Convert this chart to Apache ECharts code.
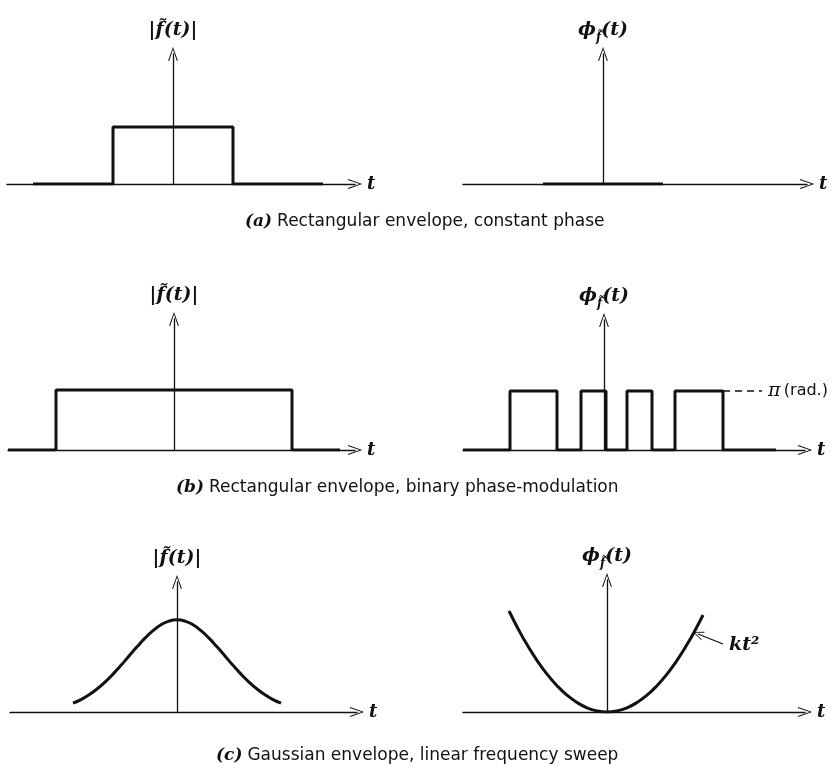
<!DOCTYPE html>
<html>
<head>
<meta charset="utf-8">
<script src="https://cdn.jsdelivr.net/npm/echarts@6/dist/echarts.min.js"></script>
<style>html,body{margin:0;padding:0;background:#fff}#c{width:836px;height:772px}</style>
</head>
<body>
<div id="c"></div>
<script>
// ---- data (t in arbitrary time units, y in arbitrary amplitude units) ----
const PI = 3.1416;
// (a) rectangular envelope, constant phase
const aEnvT = [-7, -3, -3, 3, 3, 7.5];
const aEnvY = [0, 0, 1, 1, 0, 0];
const aPhaseT = [-3, 3];
const aPhaseY = [0, 0];
// (b) rectangular envelope, binary phase modulation
const bEnvT = [-8.3, -5.9, -5.9, 5.9, 5.9, 8.3];
const bEnvY = [0, 0, 1, 1, 0, 0];
const bPhaseT = [-7.05, -4.7, -4.7, -2.35, -2.35, -1.15, -1.15, 0.1, 0.1, 1.15, 1.15, 2.4, 2.4, 3.55, 3.55, 5.95, 5.95, 8.6];
const bPhaseY = [0, 0, PI, PI, 0, 0, PI, PI, 0, 0, PI, PI, 0, 0, PI, PI, 0, 0];
const bRefT = [5.95, 7.9];
const bRefY = [PI, PI];
// (c) gaussian envelope, linear frequency sweep (quadratic phase)
const cEnvT = [-5.2, -4.8, -4.4, -4.0, -3.6, -3.2, -2.8, -2.4, -2.0, -1.6, -1.2, -0.8, -0.4, 0, 0.4, 0.8, 1.2, 1.6, 2.0, 2.4, 2.8, 3.2, 3.6, 4.0, 4.4, 4.8, 5.2];
const cEnvY = [0.096, 0.135, 0.186, 0.249, 0.325, 0.411, 0.506, 0.607, 0.707, 0.801, 0.882, 0.946, 0.986, 1.0, 0.986, 0.946, 0.882, 0.801, 0.707, 0.607, 0.506, 0.411, 0.325, 0.249, 0.186, 0.135, 0.096];
const cPhaseT = [-4.9, -4.4, -4.0, -3.5, -3.0, -2.5, -2.0, -1.5, -1.0, -0.5, 0, 0.5, 1.0, 1.5, 2.0, 2.5, 3.0, 3.5, 4.0, 4.4, 4.8];
const cPhaseY = [1.01, 0.815, 0.674, 0.516, 0.379, 0.263, 0.168, 0.095, 0.042, 0.011, 0, 0.011, 0.042, 0.095, 0.168, 0.263, 0.379, 0.516, 0.674, 0.815, 0.970];
const kLabelPos = [6.1, 0.67];
const kArrowFrom = [5.8, 0.68];
const kArrowTo = [4.55, 0.78];

const captions = [
  ['(a)', 'Rectangular envelope, constant phase'],
  ['(b)', 'Rectangular envelope, binary phase-modulation'],
  ['(c)', 'Gaussian envelope, linear frequency sweep']
];
const envName = '|f\u0303(t)|';
const phaseName = '{p|\u03d5}{s|f\u0303}{p|(t)}';

// ---- layout ----
const INK = '#111';
const ARROW = 'path://M0,0 L5,14 L4,14.4 L0,2.6 L-4,14.4 L-5,14 Z';
const zip = (t, y) => t.map((v, i) => [v, y[i]]);

const grids = [
  {left: 7, width: 348, top: 54, height: 130},
  {left: 463, width: 344, top: 54, height: 130},
  {left: 8, width: 347, top: 319, height: 131},
  {left: 463, width: 342, top: 320, height: 130},
  {left: 10, width: 347, top: 582, height: 130},
  {left: 463, width: 342, top: 580, height: 132}
];
const xr = [[-8.3, 9.1], [-7, 10.2], [-8.3, 9.05], [-7.05, 10.05], [-8.35, 9.0], [-7.2, 9.9]];
const yr = [2.28, 2.28, 2.18, 6.92, 1.41, 1.32];
const yNames = [envName, phaseName, envName, phaseName, envName, phaseName];

const serif = 'DejaVu Serif';
const nameStyle = {
  color: INK, fontFamily: serif, fontStyle: 'italic', fontWeight: 'bold', fontSize: 19,
  rich: {
    p: {fontFamily: serif, fontStyle: 'italic', fontWeight: 'bold', fontSize: 19, lineHeight: 28, color: INK, verticalAlign: 'middle'},
    s: {fontFamily: serif, fontStyle: 'italic', fontWeight: 'bold', fontSize: 12, lineHeight: 13, color: INK, verticalAlign: 'bottom'}
  }
};

const xAxes = grids.map((g, i) => ({
  type: 'value', gridIndex: i, min: xr[i][0], max: xr[i][1],
  axisLine: {show: true, onZero: true, symbol: ['none', ARROW], symbolSize: [10, 16], lineStyle: {color: INK, width: 1.3}},
  axisTick: {show: false}, axisLabel: {show: false}, splitLine: {show: false},
  name: 't', nameLocation: 'end', nameGap: 12,
  nameTextStyle: {color: INK, fontFamily: serif, fontStyle: 'italic', fontWeight: 'bold', fontSize: 18, verticalAlign: 'middle'}
}));
const yAxes = grids.map((g, i) => ({
  type: 'value', gridIndex: i, min: 0, max: yr[i],
  axisLine: {show: true, onZero: true, symbol: ['none', ARROW], symbolSize: [10, 14], lineStyle: {color: INK, width: 1.3}},
  axisTick: {show: false}, axisLabel: {show: false}, splitLine: {show: false},
  name: yNames[i], nameLocation: 'end', nameGap: i % 2 ? 10 : 14,
  nameTextStyle: nameStyle
}));

function line(idx, t, y, extra) {
  return Object.assign({
    type: 'line', xAxisIndex: idx, yAxisIndex: idx, data: zip(t, y),
    symbol: 'none', lineStyle: {color: INK, width: 3}, z: 3
  }, extra || {});
}

const series = [
  line(0, aEnvT, aEnvY),
  line(1, aPhaseT, aPhaseY),
  line(2, bEnvT, bEnvY),
  line(3, bPhaseT, bPhaseY),
  line(3, bRefT, bRefY, {
    lineStyle: {color: INK, width: 1.3, type: [7, 5]},
    endLabel: {
      show: true, distance: 6, formatter: '{p|\u03c0} {r|(rad.)}',
      rich: {
        p: {fontFamily: serif, fontStyle: 'italic', fontSize: 19, color: INK},
        r: {fontFamily: 'DejaVu Sans', fontSize: 16, color: INK}
      }
    }
  }),
  line(4, cEnvT, cEnvY, {smooth: true}),
  line(5, cPhaseT, cPhaseY, {
    smooth: true,
    markLine: {
      silent: true, symbol: ['none', ARROW], symbolSize: [9, 11],
      lineStyle: {color: INK, width: 1.3, type: 'solid', curveness: 0.5},
      label: {show: false},
      data: [[{coord: kArrowFrom}, {coord: kArrowTo}]]
    },
    markPoint: {
      silent: true, symbol: 'circle', symbolSize: 0,
      label: {
        show: true, position: 'right', distance: 0, formatter: 'kt\u00b2',
        fontFamily: serif, fontStyle: 'italic', fontWeight: 'bold', fontSize: 19, color: INK
      },
      data: [{coord: kLabelPos}]
    }
  })
];

const capTops = [213, 479, 747];
const capLefts = [245, 176, 216];
const titles = captions.map((c, i) => ({
  text: '{i|' + c[0] + '} {n|' + c[1] + '}',
  left: capLefts[i], top: capTops[i], padding: 0,
  textStyle: {
    fontWeight: 'normal',
    rich: {
      i: {fontFamily: serif, fontStyle: 'italic', fontWeight: 'bold', fontSize: 17, color: INK},
      n: {fontFamily: 'DejaVu Sans', fontWeight: 'normal', fontSize: 17, color: INK}
    }
  }
}));

const chart = echarts.init(document.getElementById('c'), null, {renderer: 'canvas'});
chart.setOption({
  animation: false,
  backgroundColor: '#fff',
  title: titles,
  grid: grids,
  xAxis: xAxes,
  yAxis: yAxes,
  series: series
});
</script>
</body>
</html>
